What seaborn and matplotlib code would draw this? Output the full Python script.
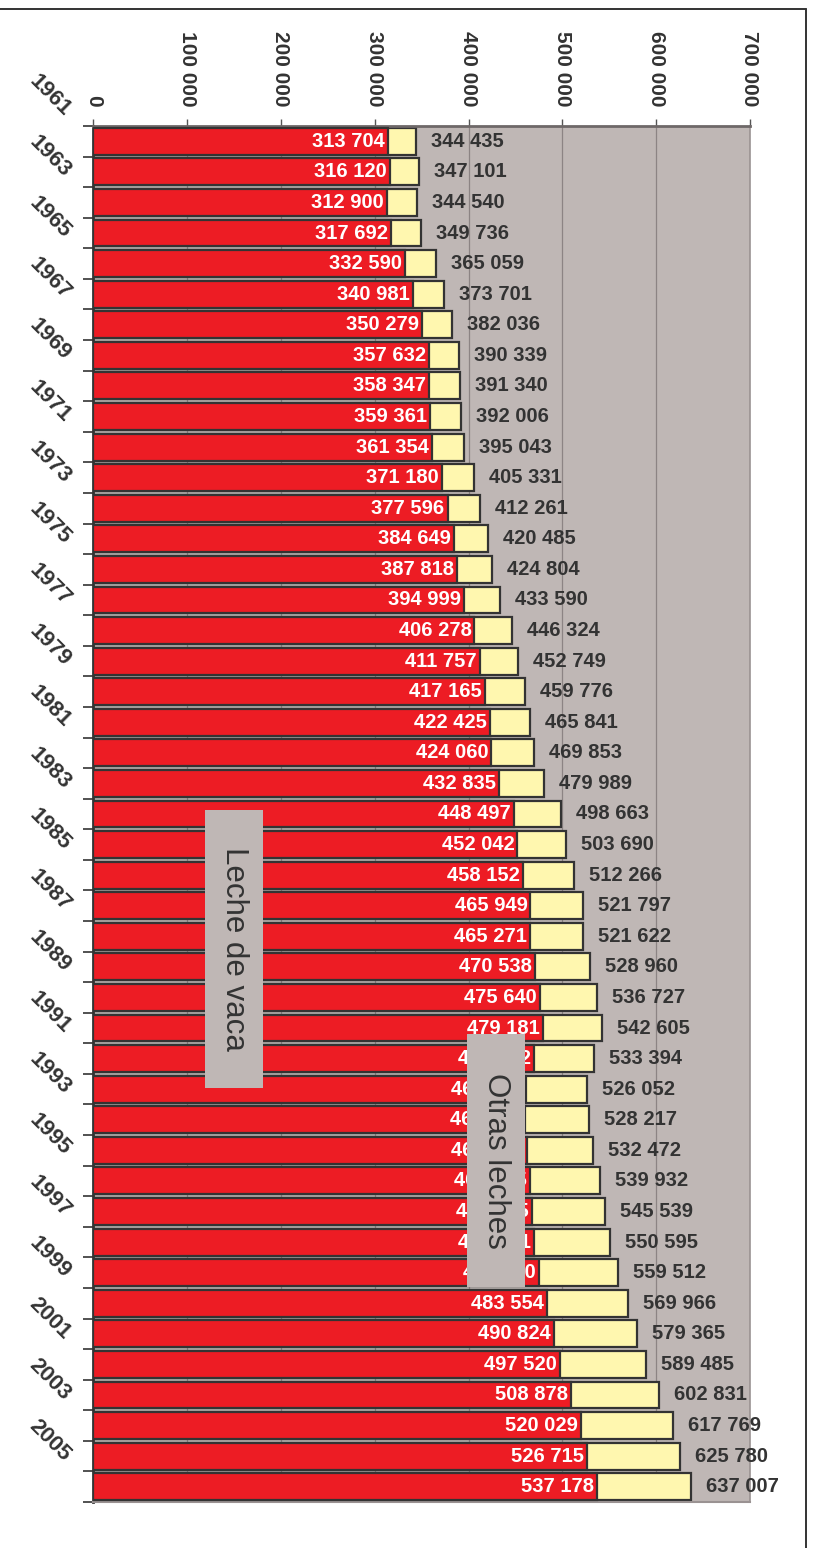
import matplotlib
matplotlib.use("Agg")
import matplotlib.pyplot as plt
from matplotlib.lines import Line2D
from matplotlib.patches import Rectangle
import seaborn as sns
import pandas as pd
import numpy as np

# ---------------- data ----------------
years = list(range(1961, 2006))
leche_vaca = [313704, 316120, 312900, 317692, 332590, 340981, 350279, 357632, 358347, 359361,
              361354, 371180, 377596, 384649, 387818, 394999, 406278, 411757, 417165, 422425,
              424060, 432835, 448497, 452042, 458152, 465949, 465271, 470538, 475640, 479181,
              469852, 461745, 460690, 461790, 464965, 467105, 469871, 475190,
              483554, 490824, 497520, 508878, 520029, 526715, 537178]
total_leche = [344435, 347101, 344540, 349736, 365059, 373701, 382036, 390339, 391340, 392006,
               395043, 405331, 412261, 420485, 424804, 433590, 446324, 452749, 459776, 465841,
               469853, 479989, 498663, 503690, 512266, 521797, 521622, 528960, 536727, 542605,
               533394, 526052, 528217, 532472, 539932, 545539, 550595, 559512,
               569966, 579365, 589485, 602831, 617769, 625780, 637007]
x_ticks = [0, 100000, 200000, 300000, 400000, 500000, 600000, 700000]
x_tick_labels = ["0", "100 000", "200 000", "300 000", "400 000", "500 000", "600 000", "700 000"]
label_vaca = "Leche de vaca"
label_otras = "Otras leches"

def fmt(v):
    return f"{v:,}".replace(",", " ")

# ---------------- style ----------------
sns.set_theme(style="white")
plt.rcParams['font.family'] = ['Liberation Sans', 'DejaVu Sans']

RED = "#ED1C24"
YELLOW = "#FFF7AF"
BG = "#BFB7B5"
DARK = "#333333"

W, H = 813, 1548
fig = plt.figure(figsize=(W / 100, H / 100), dpi=100)
L, R, T, B = 93.3, 750, 126, 1502
ax = fig.add_axes([L / W, 1 - B / H, (R - L) / W, (B - T) / H])
ax.set_facecolor(BG)

df = pd.DataFrame({"year": [str(y) for y in years], "vaca": leche_vaca, "total": total_leche})

# grid
for t in x_ticks[1:-1]:
    ax.axvline(t, color="#8C8484", lw=0.9, zorder=0.5)

sns.barplot(data=df, x="total", y="year", orient="h", color=YELLOW, saturation=1,
            width=0.88, edgecolor=DARK, linewidth=1.6, ax=ax, zorder=2)
sns.barplot(data=df, x="vaca", y="year", orient="h", color=RED, saturation=1,
            width=0.88, edgecolor=DARK, linewidth=1.6, ax=ax, zorder=3)

n = len(years)
ax.set_ylim(n - 0.5, -0.5)
ax.set_xlim(0, 700000)
ax.set_xlabel("")
ax.set_ylabel("")

# x axis on top
ax.xaxis.tick_top()
ax.set_xticks(x_ticks)
ax.set_xticklabels(x_tick_labels, rotation=-90, fontsize=15, fontweight="bold", color=DARK)
ax.tick_params(axis="x", which="both", top=True, bottom=False, length=5, width=1,
               color="#555555", pad=9)

# y axis: ticks at row boundaries, no labels
ax.set_yticks(np.arange(n + 1) - 0.5)
ax.set_yticklabels([])
ax.tick_params(axis="y", left=True, length=7, width=1.2, color=DARK)

ax.spines["left"].set_color(DARK)
ax.spines["left"].set_linewidth(2)
ax.spines["top"].set_color("#6E6868")
ax.spines["top"].set_linewidth(2)
ax.spines["bottom"].set_color("#9A9292")
ax.spines["bottom"].set_linewidth(1.5)
ax.spines["right"].set_color("#9A9292")
ax.spines["right"].set_linewidth(1.2)

# year labels
for i, y in enumerate(years):
    if i % 2 == 0:
        ax.text(-0.066, i - 1.5, str(y), transform=ax.get_yaxis_transform(),
                rotation=-45, rotation_mode="anchor", ha="center", va="center",
                fontsize=16, fontweight="bold", color=DARK, clip_on=False)

# data labels
for i, (v, t) in enumerate(zip(leche_vaca, total_leche)):
    ax.annotate(fmt(v), xy=(v, i), xytext=(-3, 0), textcoords="offset pixels",
                ha="right", va="center", fontsize=14.5, fontweight="bold",
                color="white", zorder=5)
    ax.annotate(fmt(t), xy=(t, i), xytext=(15, 0), textcoords="offset pixels",
                ha="left", va="center", fontsize=14.5, fontweight="bold",
                color=DARK, zorder=5, annotation_clip=False)

# label boxes (figure pixel coords)
def box(x0, y0, x1, y1, text):
    fig.add_artist(Rectangle((x0 / W, 1 - y1 / H), (x1 - x0) / W, (y1 - y0) / H,
                             transform=fig.transFigure, facecolor=BG, edgecolor="none",
                             zorder=10))
    fig.text((x0 + x1) / 2 / W, 1 - (y0 + y1) / 2 / H, text, rotation=-90,
             ha="center", va="center", fontsize=22.5, color=DARK, zorder=11)

box(205, 810, 263, 1088, label_vaca)
box(467, 1034, 525, 1287, label_otras)

# figure frame lines
fig.add_artist(Line2D([0, 805.7 / W], [1 - 9.3 / H, 1 - 9.3 / H], transform=fig.transFigure,
                      color=DARK, lw=1.4))
fig.add_artist(Line2D([805.7 / W, 805.7 / W], [1 - 9.3 / H, 0], transform=fig.transFigure,
                      color=DARK, lw=1.4))

fig.savefig("out.png", dpi=100)
